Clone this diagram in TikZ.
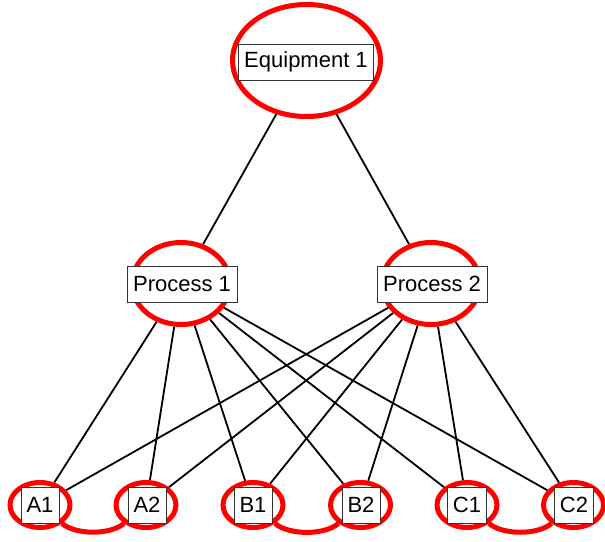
\documentclass[tikz,border=0pt]{standalone}
\usepackage{fontspec}
\setmainfont{Liberation Sans}
\usetikzlibrary{backgrounds,shapes.geometric}
\begin{document}
\begin{tikzpicture}[x=1pt,y=-1pt,
  ring/.style={draw=red,line width=5pt,ellipse,inner sep=0pt},
  lbl/.style={draw=black!80,fill=white,line width=0.8pt,font=\fontsize{22}{24}\selectfont,minimum height=36pt,inner xsep=6pt,inner ysep=0pt},
  edge/.style={draw=black,line width=1.8pt},
  link/.style={draw=red,line width=5pt}]
\useasboundingbox (0,0) rectangle (605,541);
% rings
\node[ring,minimum width=148pt,minimum height=112pt] (E) at (306.5,60.5) {};
\node[ring,minimum width=98pt,minimum height=82pt] (P1) at (181,283.5) {};
\node[ring,minimum width=98pt,minimum height=82pt] (P2) at (431,283.5) {};
\foreach \n/\x in {A1/40,A2/146,B1/253,B2/360.5,C1/467,C2/573.5}{
  \node[ring,minimum width=60pt,minimum height=45pt] (\n) at (\x,505) {};
}
% labels
\node[lbl] (tE) at (306,62) {Equipment 1};
\node[lbl] (tP1) at (182,284) {Process 1};
\node[lbl] (tP2) at (432,284) {Process 2};
\foreach \n/\x in {A1/40,A2/147,B1/253,B2/361,C1/467,C2/574}{
  \node[lbl,inner xsep=5.5pt] (t\n) at (\x,505) {\n};
}
\begin{pgfonlayer}{background}
\draw[edge] (E) -- (P1);
\draw[edge] (E) -- (P2);
\foreach \p in {P1,P2}{
  \foreach \n in {A1,A2,B1,B2,C1,C2}{
    \draw[edge] (\p) -- (\n);
  }
}
\end{pgfonlayer}
\draw[link] (A1) to[out=-40,in=-140,looseness=0.75] (A2);
\draw[link] (B1) to[out=-40,in=-140,looseness=0.75] (B2);
\draw[link] (C1) to[out=-40,in=-140,looseness=0.75] (C2);
\end{tikzpicture}
\end{document}
